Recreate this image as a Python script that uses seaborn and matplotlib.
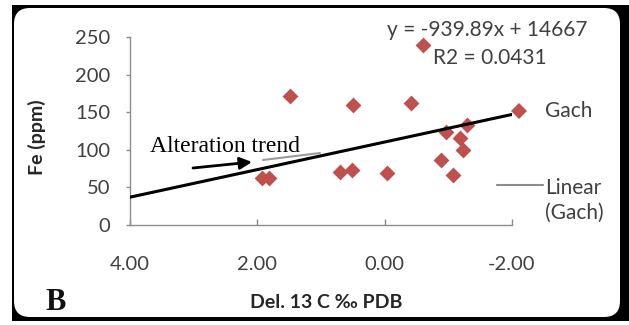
import matplotlib
matplotlib.use("Agg")
import matplotlib.pyplot as plt
import seaborn as sns
import pandas as pd
from matplotlib.patches import Rectangle, FancyBboxPatch
from matplotlib.lines import Line2D

# ---- data ----
del13c = [1.48, 0.49, -0.42, -0.60, 1.93, 1.82, 0.70, 0.52, -0.03,
          -0.97, -1.29, -1.18, -1.23, -0.89, -1.07]
fe_ppm = [171, 160, 162, 240, 63, 63, 71, 73, 69,
          124, 133, 116, 100, 87, 67]
trend_x = [4.0, -2.0]
trend_y = [37, 147]
x_ticks = [4.0, 2.0, 0.0, -2.0]
x_ticklabels = ["4.00", "2.00", "0.00", "-2.00"]
y_ticks = [0, 50, 100, 150, 200, 250]
series_name = "Gach"
trend_name = "Linear\n(Gach)"
equation = "y = -939.89x + 14667"
r2_text = "R2 = 0.0431"

df = pd.DataFrame({"del13c": del13c, "fe": fe_ppm})

sns.set_theme(style="white")
plt.rcParams["font.family"] = ["Lato", "DejaVu Sans"]

W, H = 629, 325
fig = plt.figure(figsize=(W / 100, H / 100), dpi=100)
fig.patch.set_facecolor("white")


def fx(px):
    return px / W


def fy(py):
    return 1 - py / H


# frame: black rectangle with white rounded interior
fig.patches.append(Rectangle((fx(12), fy(321)), fx(629) - fx(12), fy(5) - fy(321),
                             transform=fig.transFigure, facecolor="black",
                             edgecolor="none", zorder=0))
fig.patches.append(FancyBboxPatch((fx(14 + 16), fy(317 - 16)),
                                  fx(620 - 16) - fx(14 + 16), fy(8 + 16) - fy(317 - 16),
                                  boxstyle="round,pad=%f" % (16 / W),
                                  transform=fig.transFigure, facecolor="white",
                                  edgecolor="none", zorder=0.5,
                                  mutation_aspect=W / H))

ax = fig.add_axes([fx(130), fy(225), fx(512) - fx(130), fy(37) - fy(225)])
ax.set_facecolor("none")
ax.set_zorder(3)

red = "#C0504D"
sns.scatterplot(data=df, x="del13c", y="fe", marker="D", s=65, color=red,
                edgecolor=red, linewidth=0, ax=ax, zorder=3, legend=False)
sns.lineplot(x=trend_x, y=trend_y, color="black", linewidth=2.2, ax=ax,
             zorder=4, legend=False)

ax.set_xlim(4.0, -2.0)
ax.set_ylim(0, 250)
ax.set_xticks(x_ticks)
ax.set_xticklabels(x_ticklabels)
ax.set_yticks(y_ticks)
ax.set_xlabel("")
ax.set_ylabel("")

for s in ["top", "right"]:
    ax.spines[s].set_visible(False)
for s in ["left", "bottom"]:
    ax.spines[s].set_color("#8c8c8c")
    ax.spines[s].set_linewidth(1.0)

ax.tick_params(axis="y", direction="out", length=3, width=1, color="#8c8c8c",
               labelsize=14.5, labelcolor="#404040", pad=11, left=True)
ax.tick_params(axis="x", direction="in", length=4, width=1, color="#8c8c8c",
               labelsize=14.5, labelcolor="#404040", pad=22, bottom=True)

# axis titles
fig.text(fx(37), fy(137), "Fe (ppm)", rotation=90, ha="center", va="center",
         fontsize=14, fontweight="bold", color="#262626", zorder=5)
fig.text(fx(326), fy(303), "Del. 13 C \u2030 PDB", ha="center", va="center",
         fontsize=14, fontweight="bold", color="#262626", zorder=5)

# equation
fig.text(fx(387), fy(30), equation, ha="left", va="center", fontsize=15,
         color="#404040", zorder=5)
fig.text(fx(433), fy(58), r2_text, ha="left", va="center", fontsize=15,
         color="#404040", zorder=5)

# legend (drawn by hand at the Excel position)
fig.lines.append(Line2D([fx(519)], [fy(111)], marker="D", markersize=8,
                        color=red, markeredgewidth=0, linestyle="none",
                        transform=fig.transFigure, zorder=5))
fig.text(fx(545), fy(111), series_name, ha="left", va="center", fontsize=15,
         color="#404040", zorder=5)
fig.lines.append(Line2D([fx(497), fx(543)], [fy(185), fy(185)], color="#8c8c8c",
                        linewidth=1.5, transform=fig.transFigure, zorder=5))
fig.text(fx(545), fy(200), trend_name, ha="left", va="center", fontsize=15,
         color="#404040", linespacing=1.3, zorder=5)

# faint grey trendline piece
fig.lines.append(Line2D([fx(263), fx(320)], [fy(160), fy(153)], color="#9a9a9a",
                        linewidth=1.5, transform=fig.transFigure, zorder=2))

# annotation
fig.text(fx(150), fy(146), "Alteration trend", ha="left", va="center",
         fontsize=17, family=["Liberation Serif", "DejaVu Serif"], color="black",
         zorder=5)
ax.annotate("", xy=(fx(252), fy(162)), xycoords="figure fraction",
            xytext=(fx(193), fy(168)), textcoords="figure fraction",
            arrowprops=dict(arrowstyle="-|>,head_length=0.6,head_width=0.3",
                            color="black", lw=2.0, shrinkA=0, shrinkB=0))

fig.text(fx(45), fy(302), "B", ha="left", va="center", fontsize=22,
         fontweight="bold", family=["Liberation Serif", "DejaVu Serif"],
         color="#111111", zorder=5)

fig.savefig("out.png", dpi=100)
